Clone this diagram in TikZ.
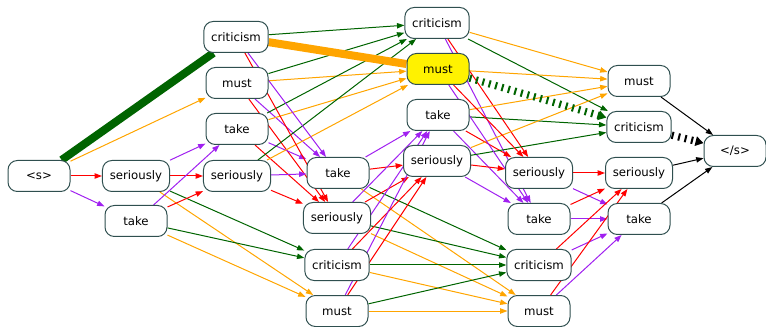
\documentclass[tikz,border=0pt]{standalone}
\usepackage{fontspec}
\setmainfont{DejaVu Sans}
\usetikzlibrary{arrows.meta,backgrounds}

\definecolor{lgreen}{RGB}{0,100,0}
\definecolor{lorange}{RGB}{255,165,0}
\definecolor{lpurple}{RGB}{160,32,240}
\definecolor{lred}{RGB}{255,0,0}
\definecolor{lborder}{RGB}{47,79,79}

\tikzset{
  word/.style={draw=lborder, fill=white, rounded corners=7pt, line width=0.75pt,
    minimum width=46.5pt, minimum height=23.25pt, inner xsep=5.5pt,
    font=\fontsize{8.8}{10}\selectfont},
  arc/.style={line width=0.75pt, -{Triangle[length=5.5pt,width=4pt]}},
  best/.style={line width=6pt},
  bestdash/.style={line width=5.5pt, dash pattern=on 1.5pt off 3.5pt,
    -{Triangle[length=6pt,width=7pt]}},
}

\begin{document}
\begin{tikzpicture}[x=0.75pt,y=-0.75pt]
  \useasboundingbox (0,0) rectangle (766,327);

  % start and end
  \node[word] (bos) at (39,176) {<s>};
  \node[word] (eos) at (735,151) {</s>};
  % column 1
  \node[word] (ser1)  at (136,176) {seriously};
  \node[word] (take1) at (136,221) {take};
  % column 2
  \node[word] (crit2) at (236,37)  {criticism};
  \node[word] (must2) at (237,83)  {must};
  \node[word] (take2) at (237,129) {take};
  \node[word] (ser2)  at (237,176) {seriously};
  % column 3
  \node[word] (take3) at (338,173) {take};
  \node[word] (ser3)  at (337,218) {seriously};
  \node[word] (crit3) at (337,265) {criticism};
  \node[word] (must3) at (337,311) {must};
  % column 4
  \node[word] (crit4) at (437,23)  {criticism};
  \node[word,fill=yellow] (must4) at (438,69) {must};
  \node[word] (take4) at (438,115) {take};
  \node[word] (ser4)  at (437,161) {seriously};
  % column 5
  \node[word] (ser5)  at (539,173) {seriously};
  \node[word] (take5) at (539,219) {take};
  \node[word] (crit5) at (539,265) {criticism};
  \node[word] (must5) at (539,311) {must};
  % column 6
  \node[word] (must6) at (639,81)  {must};
  \node[word] (crit6) at (639,127) {criticism};
  \node[word] (ser6)  at (639,173) {seriously};
  \node[word] (take6) at (639,219) {take};

  \begin{scope}[on background layer]
    \draw[arc,lred] (bos) -- (ser1);
    \draw[arc,lpurple] (bos) -- (take1);
    \draw[arc,lorange] (bos) -- (must2);
    \draw[best,lgreen] (bos) -- (crit2);

    \foreach \a in {ser1,take1}{% same four successors
      \foreach \b/\col in {ser2/lred,take2/lpurple,crit3/lgreen,must3/lorange}{
        \draw[arc,\col] (\a) -- (\b);
      }
    }
    \foreach \a in {must2,take2,ser2}{
      \foreach \b/\col in {ser3/lred,take3/lpurple,crit4/lgreen,must4/lorange}{
        \draw[arc,\col] (\a) -- (\b);
      }
    }
    \foreach \b/\col in {ser3/lred,take3/lpurple,crit4/lgreen}{
      \draw[arc,\col] (crit2) -- (\b);
    }
    \draw[best,lorange] (crit2) -- (must4);

    \foreach \a in {take3,ser3,crit3,must3}{
      \foreach \b/\col in {ser4/lred,take4/lpurple,crit5/lgreen,must5/lorange}{
        \draw[arc,\col] (\a) -- (\b);
      }
    }
    \foreach \a in {crit4,take4,ser4}{
      \foreach \b/\col in {ser5/lred,take5/lpurple,crit6/lgreen,must6/lorange}{
        \draw[arc,\col] (\a) -- (\b);
      }
    }
    \foreach \b/\col in {ser5/lred,take5/lpurple,must6/lorange}{
      \draw[arc,\col] (must4) -- (\b);
    }
    \draw[bestdash,lgreen] (must4) -- (crit6);

    \foreach \a in {ser5,take5,crit5,must5}{
      \foreach \b/\col in {ser6/lred,take6/lpurple}{
        \draw[arc,\col] (\a) -- (\b);
      }
    }
    \foreach \a in {must6,ser6,take6}{
      \draw[arc,black] (\a) -- (eos);
    }
    \draw[bestdash,black] (crit6) -- (eos);
  \end{scope}
\end{tikzpicture}
\end{document}
